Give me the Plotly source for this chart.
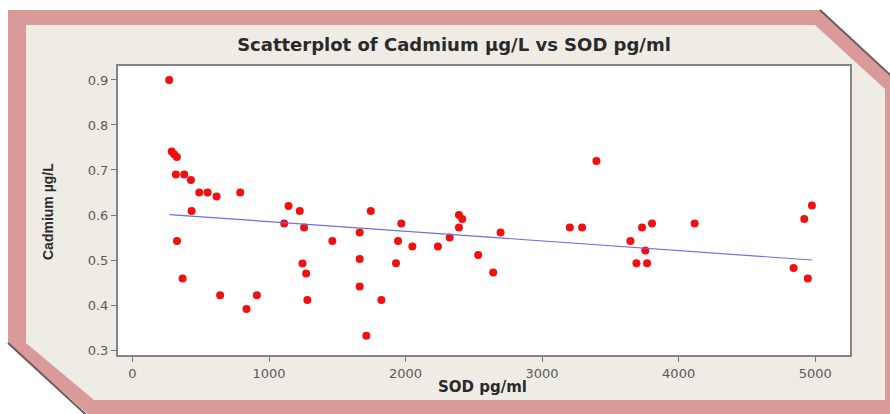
import plotly.graph_objects as go

# ---- data ----
sod = [269, 287, 305, 325, 318, 379, 428, 489, 550, 616, 789, 433, 326, 367, 642, 911, 835,
       1143, 1225, 1111, 1257, 1245, 1272, 1281, 1464, 1745, 1664, 1664, 1664, 1823, 1713,
       1969, 1945, 2050, 1930, 2237, 2391, 2415, 2391, 2323, 2696, 2532, 2642, 3203, 3293,
       3398, 3647, 3732, 3805, 3756, 3691, 3769, 4117, 4976, 4920, 4842, 4946]
cadmium = [0.900, 0.741, 0.735, 0.729, 0.690, 0.690, 0.678, 0.650, 0.650, 0.641, 0.650, 0.609,
           0.542, 0.459, 0.422, 0.422, 0.391, 0.620, 0.609, 0.581, 0.572, 0.492, 0.470, 0.411,
           0.542, 0.609, 0.561, 0.502, 0.441, 0.411, 0.332, 0.581, 0.542, 0.530, 0.493, 0.530,
           0.600, 0.591, 0.572, 0.550, 0.561, 0.511, 0.472, 0.572, 0.572, 0.720, 0.542, 0.572,
           0.581, 0.521, 0.493, 0.493, 0.581, 0.621, 0.591, 0.482, 0.459]
fit_x = [270, 4976]
fit_y = [0.601, 0.500]
x_ticks = [0, 1000, 2000, 3000, 4000, 5000]
y_ticks = [0.3, 0.4, 0.5, 0.6, 0.7, 0.8, 0.9]
title_text = "Scatterplot of Cadmium µg/L vs SOD pg/ml"
x_title = "SOD pg/ml"
y_title = "Cadmium µg/L"

# ---- layout geometry (pixels) ----
FW, FH = 890, 414
L, R, T, B = 118, 850, 66, 355
W, H = R - L, B - T


def P(px, py):
    return (px - L) / W, (B - py) / H


def path(points):
    s = ""
    for i, (px, py) in enumerate(points):
        x, y = P(px, py)
        s += ("M" if i == 0 else "L") + f"{x:.5f},{y:.5f} "
    return s + "Z"


pink = "#D99A99"
cream = "#EFECE5"

outer = [(8, 10), (820, 10), (900, 84), (900, 425), (100, 425), (8, 343)]
inner = [(26, 25), (815, 25), (885, 89), (885, 400), (94, 400), (26, 343)]

shapes = [
    dict(type="path", path=path(outer), xref="paper", yref="paper",
         fillcolor=pink, line=dict(width=0), layer="below"),
    dict(type="path", path=path(inner), xref="paper", yref="paper",
         fillcolor=cream, line=dict(width=0), layer="below"),
    dict(type="rect", x0=0, x1=1, y0=0, y1=1, xref="paper", yref="paper",
         fillcolor="white", line=dict(width=0), layer="below"),
]
# dark edge along the chamfers
for (a, b) in [((820, 10), (900, 84)), ((8, 343), (94, 422))]:
    x0, y0 = P(*a)
    x1, y1 = P(*b)
    shapes.append(dict(type="line", x0=x0, y0=y0, x1=x1, y1=y1, xref="paper", yref="paper",
                       line=dict(color="#6a5a5a", width=2), layer="below"))

fig = go.Figure()
fig.add_trace(go.Scatter(x=sod, y=cadmium, mode="markers",
                         marker=dict(color="#F01010", size=8, line=dict(width=0)),
                         showlegend=False))
fig.add_trace(go.Scatter(x=fit_x, y=fit_y, mode="lines",
                         line=dict(color="#6E6EE6", width=1.2), showlegend=False))

tickfont = dict(family="DejaVu Sans, sans-serif", size=13, color="#5a5a5a")
fig.update_layout(
    width=FW, height=FH,
    margin=dict(l=L, r=FW - R, t=T, b=FH - B, pad=0),
    paper_bgcolor="white", plot_bgcolor="white",
    shapes=shapes,
    title=dict(text="<b>" + title_text + "</b>", x=454 / FW, xanchor="center",
               y=1 - 45 / FH, yanchor="middle", yref="container",
               font=dict(family="DejaVu Sans, sans-serif", size=18, color="#2a2a2a")),
    xaxis=dict(range=[-106, 5255], tickvals=x_ticks, ticks="outside", ticklen=5,
               tickcolor="#777", tickwidth=1, showgrid=False, zeroline=False,
               showline=True, linecolor="#858585", linewidth=2, mirror=True,
               tickfont=tickfont),
    yaxis=dict(range=[0.289, 0.931], tickvals=y_ticks, tickformat=".1f", ticks="outside",
               ticklen=5, tickcolor="#777", tickwidth=1, showgrid=False, zeroline=False,
               showline=True, linecolor="#858585", linewidth=2, mirror=True,
               tickfont=tickfont),
    annotations=[
        dict(text="<b>" + x_title + "</b>", xref="paper", yref="paper",
             x=P(482, 387)[0], y=P(482, 387)[1], xanchor="center", yanchor="middle",
             showarrow=False,
             font=dict(family="DejaVu Sans, sans-serif", size=15, color="#2a2a2a")),
        dict(text="<b>" + y_title + "</b>", xref="paper", yref="paper",
             x=P(48, 212)[0], y=P(48, 212)[1], xanchor="center", yanchor="middle",
             textangle=-90, showarrow=False,
             font=dict(family="Liberation Sans Narrow, Liberation Sans, sans-serif",
                       size=14, color="#2a2a2a")),
    ],
)

fig.write_html("out.html")
